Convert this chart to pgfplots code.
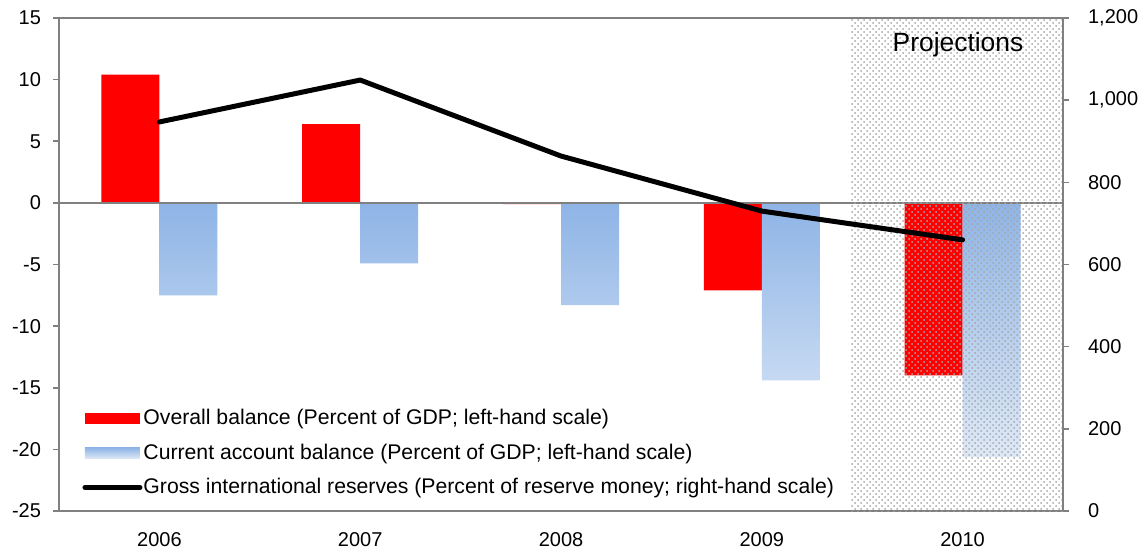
\documentclass[border=0pt]{standalone}
\usepackage{pgfplots}
\pgfplotsset{compat=1.18}
\usepackage{fontspec}
\setmainfont{Liberation Sans}
\usetikzlibrary{patterns}
\definecolor{barred}{RGB}{255,0,0}
\definecolor{bluetop}{RGB}{142,180,230}
\definecolor{bluebot}{RGB}{222,233,247}
\begin{document}
\fontsize{10}{12}\selectfont
\begin{tikzpicture}
\useasboundingbox (-29.5pt,-18.5pt) rectangle (542pt,255.5pt);
\begin{axis}[
 at={(0,0)}, anchor=south west,
 scale only axis, width=502pt, height=246.5pt,
 xmin=-0.5, xmax=4.5, ymin=-25, ymax=15,
 xtick={0,...,4}, xticklabels={2006,2007,2008,2009,2010},
 ytick={-25,-20,...,15},
 ytick pos=left, tick align=outside,
 major tick length=3pt,
 x tick style={draw=none},
 y tick style={gray, line width=0.8pt},
 axis line style={line width=0.8pt},
 y axis line style={gray},
 x axis line style={black},
 tick label style={font=\fontsize{10}{12}\selectfont},
 yticklabel style={xshift=-2.5pt},
 xticklabel style={yshift=-4pt},
 /pgf/number format/assume math mode=true,
 legend style={at={(0.017,0.012)}, anchor=south west, draw=none, fill=none,
   row sep=4pt, cells={anchor=west}, nodes={inner xsep=0.5pt},
   font=\fontsize{10.6}{12.7}\selectfont},
 legend image code/.code={\fill[#1] (0pt,-2.75pt) rectangle (27.5pt,2.75pt);},
]
\addplot[ybar, bar width=29pt, bar shift=-14.5pt, fill=barred, draw=none]
 coordinates {(0,10.4)(1,6.4)(2,-0.1)(3,-7.1)(4,-14.0)};
\addlegendentry{Overall balance (Percent of GDP; left-hand scale)}
\addplot[ybar, bar width=29pt, bar shift=14.5pt, draw=none, top color=bluetop, bottom color=bluebot]
 coordinates {(0,-7.5)(1,-4.9)(2,-8.3)(3,-14.4)(4,-20.6)};
\addlegendentry{Current account balance (Percent of GDP; left-hand scale)}
\addlegendimage{legend image code/.code={\draw[black, line width=2.5pt, line cap=round] (0pt,0pt) -- (27.5pt,0pt);}}
\addlegendentry{Gross international reserves (Percent of reserve money; right-hand scale)}
\draw[gray, line width=0.8pt] (axis cs:-0.5,0) -- (axis cs:4.5,0);
\fill[pattern=crosshatch dots, pattern color=gray!70] (axis cs:3.444,-25) rectangle (axis cs:4.5,15);
\node[font=\fontsize{13.2}{15}\selectfont] at (axis cs:3.977,12.8) {Projections};
\end{axis}
\begin{axis}[
 at={(0,0)}, anchor=south west,
 scale only axis, width=502pt, height=246.5pt,
 xmin=-0.5, xmax=4.5, ymin=0, ymax=1200,
 axis y line*=right, axis x line=none,
 ytick={0,200,...,1200},
 tick align=outside, major tick length=3pt,
 y axis line style={gray, line width=0.8pt},
 y tick style={gray, line width=0.8pt},
 tick label style={font=\fontsize{10}{12}\selectfont},
 yticklabel style={xshift=6pt},
 /pgf/number format/.cd, 1000 sep={,}, assume math mode=true,
]
\addplot[black, line width=2.5pt, line cap=round, line join=round]
 coordinates {(0,947)(1,1049)(2,864)(3,730)(4,660)};
\end{axis}
\end{tikzpicture}
\end{document}
